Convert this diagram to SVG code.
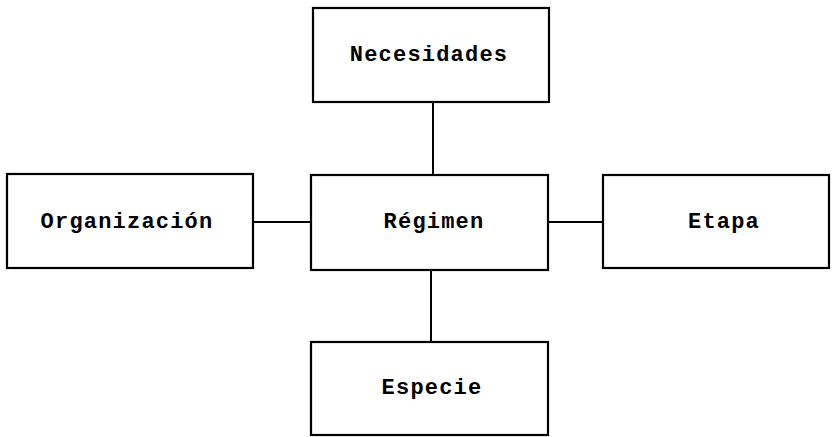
<svg xmlns="http://www.w3.org/2000/svg" width="833" height="437" viewBox="0 0 833 437">
<style>
.box{fill:#fff;stroke:#000;stroke-width:2.2}
.lbl{font-family:"Liberation Mono","DejaVu Sans Mono",monospace;font-weight:bold;font-size:22px;letter-spacing:1.2px;text-anchor:middle;dominant-baseline:central;fill:#000}
.con{stroke:#000;stroke-width:2;fill:none}
</style>
<rect width="833" height="437" fill="#fff"/>
<g id="connectors">
<line class="con" x1="433" y1="102" x2="433" y2="175"/>
<line class="con" x1="253" y1="222" x2="311" y2="222"/>
<line class="con" x1="548" y1="222" x2="603" y2="222"/>
<line class="con" x1="431" y1="270" x2="431" y2="342"/>
</g>
<g id="necesidades"><rect class="box" x="313" y="8" width="236" height="94"/><text class="lbl" x="429" y="55">Necesidades</text></g>
<g id="organizacion"><rect class="box" x="7" y="174" width="246" height="94"/><text class="lbl" x="127" y="222">Organización</text></g>
<g id="regimen"><rect class="box" x="311" y="175" width="237" height="95"/><text class="lbl" x="434" y="222">Régimen</text></g>
<g id="etapa"><rect class="box" x="603" y="175" width="226" height="93"/><text class="lbl" x="724" y="222">Etapa</text></g>
<g id="especie"><rect class="box" x="311" y="342" width="237" height="93"/><text class="lbl" x="432" y="388">Especie</text></g>
</svg>
